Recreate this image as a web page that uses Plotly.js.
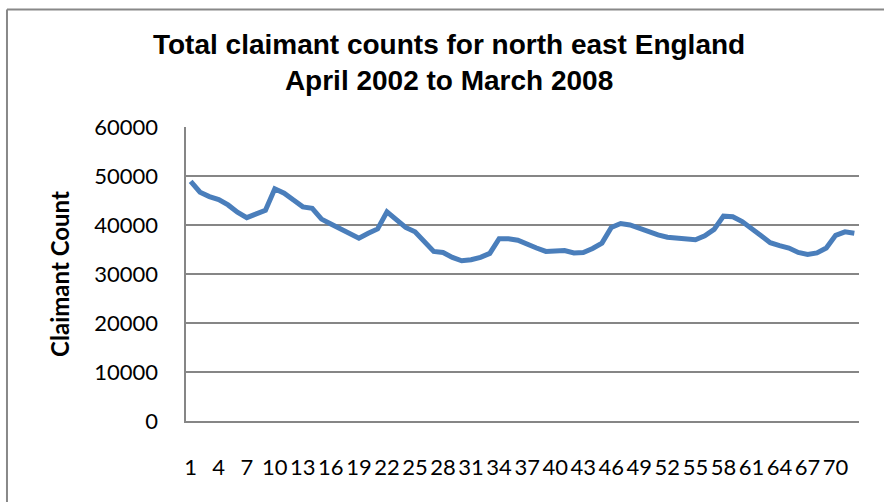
<!DOCTYPE html>
<html>
<head>
<meta charset="utf-8">
<script src="https://cdn.plot.ly/plotly-3.0.1.min.js"></script>
<style>
html,body{margin:0;padding:0;background:#fff;}
#chart{width:884px;height:502px;}
</style>
</head>
<body>
<div id="chart"></div>
<script>
// Month index (April 2002 = 1 ... March 2008 = 72)
const months = Array.from({length: 72}, (_, i) => i + 1);
// Claimant counts
const claimantCounts = [
  48900, 46700, 45800, 45200, 44100, 42600, 41500, 42300, 43000, 47400,
  46500, 45100, 43700, 43400, 41200, 40200, 39300, 38400, 37300, 38300,
  39200, 42700, 41000, 39500, 38600, 36500, 34600, 34400, 33400, 32700,
  32900, 33400, 34200, 37200, 37200, 36900, 36000, 35300, 34600, 34700,
  34800, 34300, 34400, 35200, 36300, 39500, 40300, 40000, 39300, 38600,
  38000, 37500, 37400, 37100, 37000, 37800, 39100, 41800, 41700, 40700,
  39300, 37600, 36400, 35800, 35300, 34400, 34000, 34300, 35300, 37900,
  38600, 38300
];
const xTickVals = [1,4,7,10,13,16,19,22,25,28,31,34,37,40,43,46,49,52,55,58,61,64,67,70];
const xTickText = xTickVals.map(String);
const yTickVals = [0, 10000, 20000, 30000, 40000, 50000, 60000];
const yTickText = ['0','10000','20000','30000','40000','50000','60000'];

const trace = {
  x: months,
  y: claimantCounts,
  type: 'scatter',
  mode: 'lines',
  line: {color: '#4a7ebb', width: 5},
  hoverinfo: 'x+y'
};

const gray = '#868686';
const layout = {
  width: 884,
  height: 502,
  margin: {l: 186, r: 25, t: 127, b: 81, pad: 0},
  paper_bgcolor: '#ffffff',
  plot_bgcolor: '#ffffff',
  showlegend: false,
  font: {family: 'Lato, "Open Sans", sans-serif', color: '#000'},
  title: {
    text: '<b>Total claimant counts for north east England<br>April 2002 to March 2008</b>',
    font: {family: '"Liberation Sans", Arial, sans-serif', size: 28, color: '#000'},
    x: 0.508, xanchor: 'center', xref: 'container',
    y: 0.893, yanchor: 'middle', yref: 'container'
  },
  xaxis: {
    range: [0.5, 72.5],
    tickmode: 'array',
    tickvals: xTickVals,
    ticktext: xTickText,
    tickangle: 0,
    ticks: '',
    ticklabelstandoff: 26,
    showgrid: false,
    zeroline: false,
    showline: true,
    linecolor: gray,
    linewidth: 1.6,
    tickfont: {family: 'Lato, sans-serif', size: 22, color: '#000'}
  },
  yaxis: {
    range: [0, 60000],
    tickmode: 'array',
    tickvals: yTickVals,
    ticktext: yTickText,
    ticks: '',
    ticklabelstandoff: 22,
    showgrid: true,
    gridcolor: gray,
    gridwidth: 1.6,
    zeroline: false,
    showline: true,
    linecolor: gray,
    linewidth: 1.6,
    tickfont: {family: 'Lato, sans-serif', size: 22, color: '#000'},
    title: {
      text: '<b>Claimant Count</b>',
      font: {family: 'Lato, sans-serif', size: 24, color: '#000'},
      standoff: 18
    }
  },
  shapes: [
    {type: 'line', xref: 'paper', yref: 'paper', x0: -0.266, x1: 1.2, y0: 1.4, y1: 1.4,
     line: {color: '#888888', width: 2}},
    {type: 'line', xref: 'paper', yref: 'paper', x0: -0.266, x1: -0.266, y0: 1.4, y1: -0.4,
     line: {color: '#888888', width: 2}}
  ]
};

Plotly.newPlot('chart', [trace], layout, {displayModeBar: false, staticPlot: true});
</script>
</body>
</html>
